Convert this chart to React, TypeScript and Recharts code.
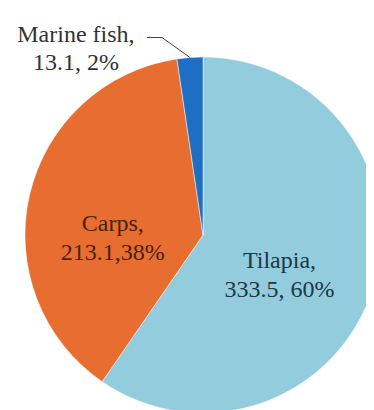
import React from "react";
import { PieChart, Pie, Cell } from "recharts";

const categories = ["Tilapia", "Carps", "Marine fish"];
const values = [333.5, 213.1, 13.1];
const percentLabels = ["60%", "38%", "2%"];
const colors = ["#92CCDD", "#E76D30", "#1E6FC4"];
const textColors = ["#1C3746", "#4A1F0A", "#333333"];

const data = categories.map((name, i) => ({ name, value: values[i], pct: percentLabels[i] }));

const RAD = Math.PI / 180;
const SERIF = "Liberation Serif";

const renderLabel = (props: any) => {
  const { cx, cy, midAngle, outerRadius, index } = props;
  const d = data[index];
  const line1 = `${d.name},`;
  const line2 = index === 1 ? `${d.value},${d.pct}` : `${d.value}, ${d.pct}`;
  const cos = Math.cos(-midAngle * RAD);
  const sin = Math.sin(-midAngle * RAD);
  let x: number;
  let y: number;
  let gap = 29;
  let leader: React.ReactNode = null;
  if (index === 2) {
    const ex = cx + outerRadius * cos;
    const ey = cy + outerRadius * sin;
    const mx = ex - 28;
    const my = ey - 20;
    const hx = mx - 15;
    x = mx - 86;
    y = my + 5;
    gap = 28;
    leader = <polyline points={`${ex},${ey} ${mx},${my} ${hx},${my}`} fill="none" stroke="#404040" strokeWidth={1} />;
  } else {
    const rf = index === 0 ? 0.45 : 0.52;
    x = cx + outerRadius * rf * cos;
    y = cy + outerRadius * rf * sin + (index === 0 ? 9 : 17);
  }
  return (
    <g key={`lbl-${index}`}>
      {leader}
      <text key={`t1-${index}`} x={x} y={y} textAnchor="middle" fill={textColors[index]} fontFamily={SERIF} fontSize={24} style={{ fontFamily: SERIF, fontSize: 24 }}>
        {line1}
      </text>
      <text key={`t2-${index}`} x={x} y={y + gap} textAnchor="middle" fill={textColors[index]} fontFamily={SERIF} fontSize={24} style={{ fontFamily: SERIF, fontSize: 24 }}>
        {line2}
      </text>
    </g>
  );
};

export default function App() {
  return (
    <div style={{ marginLeft: -8, marginTop: -8 }}>
      <PieChart width={374} height={410}>
        <Pie
          data={data}
          dataKey="value"
          cx={198}
          cy={230}
          outerRadius={178}
          startAngle={90}
          endAngle={-270}
          stroke="#ffffff"
          strokeWidth={0.5}
          label={renderLabel}
          labelLine={false}
          isAnimationActive={false}
        >
          {data.map((d, i) => (
            <Cell key={i} fill={colors[i]} />
          ))}
        </Pie>
      </PieChart>
    </div>
  );
}
